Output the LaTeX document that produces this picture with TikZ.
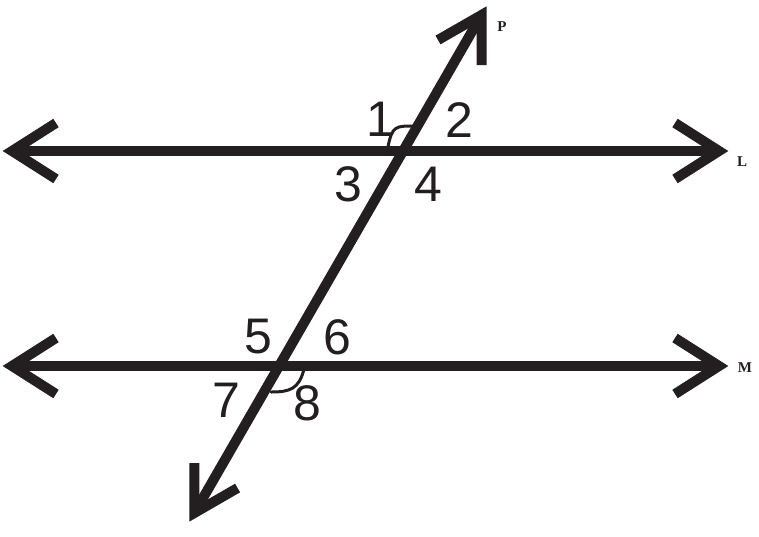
\documentclass[tikz,border=0pt]{standalone}
\usepackage{fontspec}
\setmainfont{Liberation Sans}
\newfontfamily\lblfont{Liberation Serif}
\definecolor{ink}{RGB}{35,31,32}
\tikzset{
  thickline/.style={line width=10pt, color=ink, miter limit=10, line join=miter, line cap=butt},
  arcmark/.style={line width=3pt, color=ink, line cap=round},
  numlabel/.style={font=\fontsize{50}{50}\selectfont, text=ink, inner sep=0pt},
  linelabel/.style={font=\lblfont\bfseries\fontsize{15}{15}\selectfont, text=ink, inner sep=0pt}
}
\begin{document}
\begin{tikzpicture}[x=1pt,y=-1pt]
\useasboundingbox (0,0) rectangle (759,536);
% key points
\coordinate (Lw) at (12,151);
\coordinate (Le) at (719,151);
\coordinate (Mw) at (12,366);
\coordinate (Me) at (719,366);
\coordinate (Pn) at (481.5,15);
\coordinate (Ps) at (194.3,513);
% lines
\draw[thickline] (Lw) -- (Le);
\draw[thickline] (Mw) -- (Me);
\draw[thickline] (Ps) -- (Pn);
% arrowheads
\draw[thickline] (56,123) -- (Lw) -- (56,179);
\draw[thickline] (675,123) -- (Le) -- (675,179);
\draw[thickline] (56,338) -- (Mw) -- (56,394);
\draw[thickline] (675,338) -- (Me) -- (675,394);
\draw[thickline] (438,40) -- (Pn) -- (481.5,65);
\draw[thickline] (194.3,463) -- (Ps) -- (237.6,488);
% angle marks
\draw[arcmark] (388,147) .. controls (392,126) and (396,126) .. (413,126);
\draw[arcmark] (304,369) .. controls (299,389) and (290,392) .. (271,392);
% labels
\node[numlabel] (n1) at (380,119) {1};
\node[numlabel] (n2) at (459,120) {2};
\node[numlabel] (n3) at (348,184) {3};
\node[numlabel] (n4) at (428,184) {4};
\node[numlabel] (n5) at (258,337) {5};
\node[numlabel] (n6) at (337,337) {6};
\node[numlabel] (n7) at (226,400) {7};
\node[numlabel] (n8) at (307,403) {8};
\node[linelabel] (lP) at (502,27) {P};
\node[linelabel] (lL) at (742,162) {L};
\node[linelabel] (lM) at (745,368) {M};
\end{tikzpicture}
\end{document}
